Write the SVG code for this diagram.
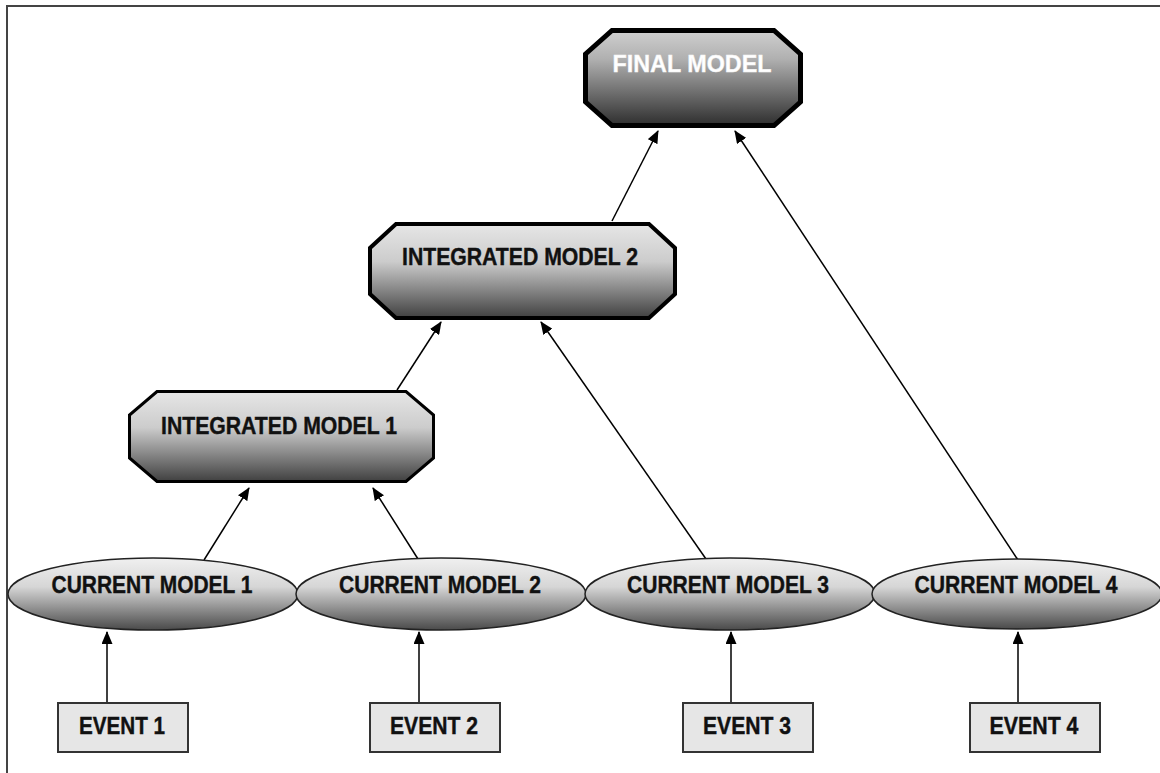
<svg xmlns="http://www.w3.org/2000/svg" width="1160" height="773" viewBox="0 0 1160 773">
  <defs>
    <linearGradient id="gFinal" x1="0" y1="0" x2="0" y2="1">
      <stop offset="0" stop-color="#cfcfcf"/>
      <stop offset="0.3" stop-color="#b0b0b0"/>
      <stop offset="1" stop-color="#2e2e2e"/>
    </linearGradient>
    <linearGradient id="gOct" x1="0" y1="0" x2="0" y2="1">
      <stop offset="0" stop-color="#e6e6e6"/>
      <stop offset="0.4" stop-color="#cccccc"/>
      <stop offset="1" stop-color="#404040"/>
    </linearGradient>
    <linearGradient id="gEll" x1="0" y1="0" x2="0" y2="1">
      <stop offset="0" stop-color="#f0f0f0"/>
      <stop offset="0.4" stop-color="#d6d6d6"/>
      <stop offset="1" stop-color="#4a4a4a"/>
    </linearGradient>
    <marker id="arrow" viewBox="0 0 13 11" refX="12" refY="5.5" markerWidth="13" markerHeight="11" markerUnits="userSpaceOnUse" orient="auto">
      <path d="M0,0 L13,5.5 L0,11 Z" fill="#000"/>
    </marker>
    <style>
      .lbl { font-family: "Liberation Sans", Arial, sans-serif; font-weight: bold; font-size: 24px; text-anchor: middle; fill: #111; stroke: #111; stroke-width: 0.4; }
      .white { fill: #ffffff; stroke: #f4f4f4; }
      .oct { fill: url(#gOct); stroke: #000; stroke-linejoin: miter; }
      .ell { fill: url(#gEll); stroke: #222; stroke-width: 1.5; }
      .evt { fill: #e6e6e6; stroke: #333; stroke-width: 2; }
      .edge { stroke: #000; stroke-width: 1.5; fill: none; marker-end: url(#arrow); }
    </style>
  </defs>

  <rect width="1160" height="773" fill="#fff"/>
  <!-- outer frame, open towards the right and bottom edges -->
  <rect x="7" y="6" width="1200" height="800" fill="none" stroke="#444" stroke-width="2"/>

  <g id="connectors">
    <line class="edge" x1="107" y1="703" x2="107" y2="632"/>
    <line class="edge" x1="419" y1="703" x2="419" y2="632"/>
    <line class="edge" x1="731" y1="703" x2="731" y2="632"/>
    <line class="edge" x1="1018" y1="703" x2="1018" y2="632"/>
    <line class="edge" x1="204" y1="560" x2="249" y2="488"/>
    <line class="edge" x1="418" y1="559" x2="373" y2="488"/>
    <line class="edge" x1="397" y1="390" x2="441" y2="322"/>
    <line class="edge" x1="706" y1="559" x2="541" y2="322"/>
    <line class="edge" x1="612" y1="221" x2="658" y2="131"/>
    <line class="edge" x1="1018" y1="560" x2="735" y2="131"/>
  </g>

  <g id="final-model">
    <path d="M612,30.5 L774,30.5 L800.5,54 L800.5,102 L774,125.5 L612,125.5 L585.5,102 L585.5,54 Z" fill="url(#gFinal)" stroke="#000" stroke-width="5"/>
    <text class="lbl white" x="692" y="72" textLength="159" lengthAdjust="spacingAndGlyphs">FINAL MODEL</text>
  </g>

  <g id="integrated-model-2">
    <path class="oct" stroke-width="4" d="M396,224 L649,224 L675,248 L675,294 L649,318 L396,318 L370,294 L370,248 Z"/>
    <text class="lbl" x="520" y="265" textLength="236" lengthAdjust="spacingAndGlyphs">INTEGRATED MODEL 2</text>
  </g>

  <g id="integrated-model-1">
    <path class="oct" stroke-width="3" d="M157,391.5 L406,391.5 L433.5,415 L433.5,458 L406,481.5 L157,481.5 L129.5,458 L129.5,415 Z"/>
    <text class="lbl" x="279" y="434" textLength="236" lengthAdjust="spacingAndGlyphs">INTEGRATED MODEL 1</text>
  </g>

  <g id="current-model-1">
    <ellipse class="ell" cx="153" cy="594" rx="145" ry="36"/>
    <text class="lbl" x="152" y="593" textLength="201" lengthAdjust="spacingAndGlyphs">CURRENT MODEL 1</text>
  </g>
  <g id="current-model-2">
    <ellipse class="ell" cx="441" cy="594" rx="145" ry="36"/>
    <text class="lbl" x="440" y="593" textLength="202" lengthAdjust="spacingAndGlyphs">CURRENT MODEL 2</text>
  </g>
  <g id="current-model-3">
    <ellipse class="ell" cx="730" cy="594" rx="145" ry="36"/>
    <text class="lbl" x="728" y="593" textLength="202" lengthAdjust="spacingAndGlyphs">CURRENT MODEL 3</text>
  </g>
  <g id="current-model-4">
    <ellipse class="ell" cx="1017" cy="594" rx="145" ry="35"/>
    <text class="lbl" x="1016" y="593" textLength="203" lengthAdjust="spacingAndGlyphs">CURRENT MODEL 4</text>
  </g>

  <g id="event-1">
    <rect class="evt" x="58" y="703" width="130" height="49"/>
    <text class="lbl" x="122" y="734" textLength="86" lengthAdjust="spacingAndGlyphs">EVENT 1</text>
  </g>
  <g id="event-2">
    <rect class="evt" x="370" y="703" width="130" height="49"/>
    <text class="lbl" x="434" y="734" textLength="88" lengthAdjust="spacingAndGlyphs">EVENT 2</text>
  </g>
  <g id="event-3">
    <rect class="evt" x="683" y="703" width="130" height="49"/>
    <text class="lbl" x="747" y="734" textLength="88" lengthAdjust="spacingAndGlyphs">EVENT 3</text>
  </g>
  <g id="event-4">
    <rect class="evt" x="970" y="703" width="130" height="49"/>
    <text class="lbl" x="1034" y="734" textLength="89" lengthAdjust="spacingAndGlyphs">EVENT 4</text>
  </g>
</svg>
